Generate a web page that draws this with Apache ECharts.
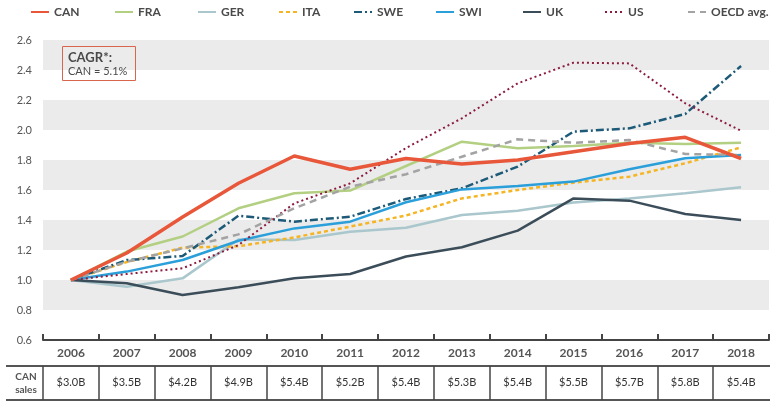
<!DOCTYPE html>
<html>
<head>
<meta charset="utf-8">
<script src="https://cdn.jsdelivr.net/npm/echarts@6/dist/echarts.min.js"></script>
<style>html,body{margin:0;padding:0;background:#fff}#c{width:781px;height:411px}</style>
</head>
<body>
<div id="c"></div>
<script>
var years = ['2006','2007','2008','2009','2010','2011','2012','2013','2014','2015','2016','2017','2018'];
var canSales = ['$3.0B','$3.5B','$4.2B','$4.9B','$5.4B','$5.2B','$5.4B','$5.3B','$5.4B','$5.5B','$5.7B','$5.8B','$5.4B'];
var yTicks = [0.6,0.8,1.0,1.2,1.4,1.6,1.8,2.0,2.2,2.4,2.6];
var CAN  = [1.00,1.18,1.42,1.645,1.827,1.738,1.81,1.773,1.80,1.855,1.91,1.951,1.81];
var FRA  = [1.00,1.19,1.29,1.478,1.578,1.596,1.76,1.922,1.878,1.893,1.915,1.907,1.915];
var GER  = [1.00,0.955,1.011,1.27,1.267,1.322,1.348,1.433,1.462,1.516,1.544,1.578,1.618];
var ITA  = [1.00,1.12,1.216,1.225,1.284,1.356,1.43,1.544,1.60,1.649,1.689,1.778,1.884];
var SWE  = [1.00,1.133,1.16,1.429,1.389,1.422,1.54,1.611,1.756,1.989,2.011,2.107,2.427];
var SWI  = [1.00,1.056,1.133,1.262,1.344,1.389,1.518,1.604,1.627,1.656,1.738,1.811,1.833];
var UK   = [1.00,0.978,0.90,0.951,1.011,1.04,1.157,1.218,1.329,1.544,1.529,1.44,1.40];
var US   = [1.00,1.04,1.078,1.233,1.511,1.644,1.88,2.078,2.311,2.449,2.444,2.178,1.995];
var OECD = [1.00,1.122,1.211,1.304,1.478,1.622,1.705,1.822,1.938,1.915,1.933,1.84,1.833];
var seriesNames = ['CAN','FRA','GER','ITA','SWE','SWI','UK','US','OECD avg.'];
var cagrTitle = 'CAGR*:';
var cagrText = 'CAN = 5.1%';

var FONT = 'Lato, "Open Sans", sans-serif';
var legendLeft = [30, 114, 197, 278, 353, 435, 522, 604, 687];
function mk(name, data, color, width, type, z) {
  return {
    name: name, type: 'line', data: data, symbol: 'none', showSymbol: false, z: z || 2,
    lineStyle: { color: color, width: width, type: type, cap: 'butt' },
    itemStyle: { color: color },
    emphasis: { disabled: true }
  };
}
var legends = seriesNames.map(function (n, i) {
  return {
    left: legendLeft[i], top: 6, padding: 0, itemWidth: 18, itemHeight: 10,
    itemStyle: { opacity: 0 },
    textStyle: { fontFamily: FONT, fontWeight: 'bold', fontSize: 12, color: '#4a4a4a' },
    data: [n]
  };
});
var chart = echarts.init(document.getElementById('c'));
chart.setOption({
  animation: false,
  textStyle: { fontFamily: FONT },
  title: {
    left: 62, top: 45,
    text: '{b|' + cagrTitle + '}\n{n|' + cagrText + '}',
    borderColor: '#d9664a', borderWidth: 1,
    padding: [5, 8, 4, 6],
    textStyle: {
      rich: {
        b: { fontFamily: FONT, fontWeight: 'bold', fontSize: 13, color: '#4a4a4a', lineHeight: 15 },
        n: { fontFamily: FONT, fontWeight: 'normal', fontSize: 11, color: '#4a4a4a', lineHeight: 13 }
      }
    }
  },
  legend: legends,
  grid: [
    { left: 43, right: 12, top: 40, height: 300 },
    { left: 43, right: 12, top: 366, height: 34 }
  ],
  xAxis: [
    {
      type: 'category', data: years, gridIndex: 0, boundaryGap: true,
      axisLine: { lineStyle: { color: '#444', width: 2 } },
      axisTick: { show: true, inside: true, length: 6, lineStyle: { color: '#444', width: 2 } },
      axisLabel: { margin: 7, fontFamily: FONT, fontWeight: 'bold', fontSize: 12, color: '#555' },
      splitLine: { show: false }
    },
    {
      type: 'category', data: canSales, gridIndex: 1, position: 'bottom', boundaryGap: true,
      axisLine: { show: false }, axisTick: { show: false },
      axisLabel: { inside: true, margin: 12, fontFamily: FONT, fontSize: 11, color: '#333' },
      splitLine: { show: true, showMaxLine: false, lineStyle: { color: '#444', width: 1.5 } }
    }
  ],
  yAxis: [
    {
      type: 'value', gridIndex: 0, min: 0.6, max: 2.6, interval: 0.2,
      axisLine: { show: false }, axisTick: { show: false },
      axisLabel: { margin: 11, fontFamily: FONT, fontSize: 11, color: '#555',
        formatter: function (v) { return v.toFixed(1); } },
      splitLine: { show: false },
      splitArea: { show: true, areaStyle: { color: ['rgba(255,255,255,0)', '#ebebeb'] } }
    },
    { type: 'value', gridIndex: 1, show: false, min: 0, max: 1 }
  ],
  graphic: [
    { type: 'line', shape: { x1: 6, y1: 366, x2: 770, y2: 366 }, style: { stroke: '#555', lineWidth: 2 } },
    { type: 'line', shape: { x1: 6, y1: 400, x2: 770, y2: 400 }, style: { stroke: '#555', lineWidth: 2 } },
    { type: 'text', x: 26, y: 377, style: { text: 'CAN', fontFamily: FONT, fontWeight: 'bold', fontSize: 10, fill: '#555', align: 'center', verticalAlign: 'middle' } },
    { type: 'text', x: 26, y: 390, style: { text: 'sales', fontFamily: FONT, fontWeight: 'bold', fontSize: 10, fill: '#555', align: 'center', verticalAlign: 'middle' } }
  ],
  series: [
    mk(seriesNames[0], CAN, '#e8573a', 3.5, 'solid', 5),
    mk(seriesNames[1], FRA, '#b3cf82', 2.5, 'solid'),
    mk(seriesNames[2], GER, '#a9c7cc', 2.5, 'solid'),
    mk(seriesNames[3], ITA, '#f5b523', 2.5, [4, 3]),
    mk(seriesNames[4], SWE, '#1d5a78', 2.5, [8, 3, 2, 3]),
    mk(seriesNames[5], SWI, '#2b9fd9', 2.5, 'solid'),
    mk(seriesNames[6], UK, '#3c4d5a', 2.5, 'solid'),
    mk(seriesNames[7], US, '#8b1c3e', 2, [2, 3]),
    mk(seriesNames[8], OECD, '#a3a3a3', 2.5, [7, 5])
  ]
});
</script>
</body>
</html>
